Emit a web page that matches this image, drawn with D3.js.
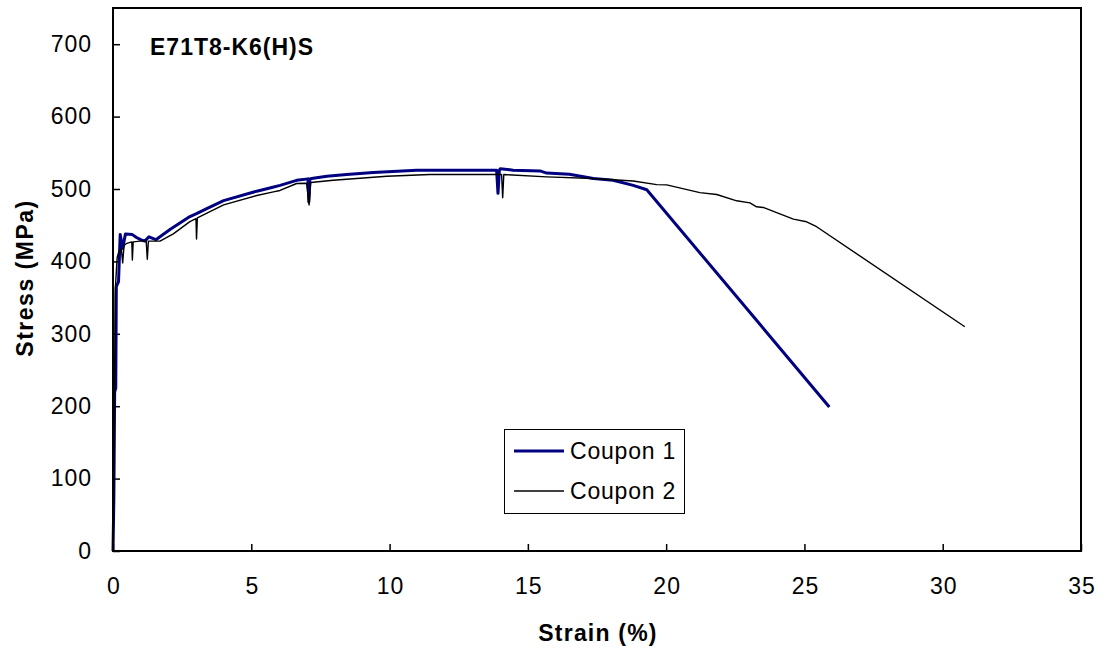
<!DOCTYPE html>
<html><head><meta charset="utf-8">
<script src="https://cdn.jsdelivr.net/npm/d3@7"></script>
<style>body{margin:0;background:#fff}svg{display:block}text{font-family:"Liberation Sans",Arial,sans-serif}</style>
</head><body>
<script>
const seriesNames = ["Coupon 1", "Coupon 2"];
const chartTitle = "E71T8-K6(H)S";
const xTicks = [0,5,10,15,20,25,30,35];
const yTicks = [0,100,200,300,400,500,600,700];
// [strain %, stress MPa]
const coupon1 = [[0,0],[0.03,70],[0.06,220],[0.1,225],[0.12,365],[0.2,372],[0.26,437],[0.35,418],[0.45,438],[0.7,437],[0.85,433],[1.0,430],[1.15,428],[1.3,434],[1.55,430],[2.06,444],[2.78,462],[3.02,466],[3.39,473],[4.0,484],[5.2,497],[5.74,502],[6.04,505],[6.64,512],[7.05,514],[7.08,482],[7.12,514],[7.18,514.5],[7.73,517.7],[8.45,520],[9.41,522.7],[10.98,526],[13.87,526],[13.92,494],[13.97,526],[14.0,528],[14.47,526],[15.44,525],[15.68,522],[16.5,520.5],[17.37,514.6],[18.08,512],[18.81,505],[19.3,499],[25.9,199]];
const coupon2 = [[0,0],[0.03,75],[0.08,360],[0.15,405],[0.2,412],[0.3,418],[0.35,398],[0.4,422],[0.5,425],[0.68,427],[0.7,402],[0.73,427],[0.98,428],[1.2,428],[1.24,403],[1.28,428],[1.7,428],[2.18,438],[2.78,455],[3.0,459],[3.02,431],[3.05,460],[4.0,478],[5.2,491],[5.8,496],[6.04,498],[6.64,507.6],[7.0,508],[7.09,478],[7.15,509],[7.96,512],[8.81,514.5],[9.9,517.7],[11.46,520],[14.05,520],[14.09,488],[14.13,520],[15.68,516.8],[17.36,514.6],[18.81,511],[19.66,506],[20.02,505.7],[21.22,495],[21.83,492.4],[22.55,483.7],[23.03,480.9],[23.27,475.4],[23.51,474.5],[24.6,458.4],[25.08,454.7],[25.44,447.9],[30.8,309.7]];

const W=1104,H=652;
const L=113,R=1081,T=8,B=551;
const svg=d3.select("body").append("svg").attr("width",W).attr("height",H);
const x=d3.scaleLinear().domain([0,35]).range([L,R]);
const y=d3.scaleLinear().domain([0,750]).range([B,T]);

const xa=svg.append("g").attr("transform",`translate(0,${B})`)
  .call(d3.axisBottom(x).tickValues(xTicks).tickSizeInner(-7).tickSizeOuter(0).tickPadding(27));
const ya=svg.append("g").attr("transform",`translate(${L},0)`)
  .call(d3.axisLeft(y).tickValues(yTicks).tickSizeInner(-7).tickSizeOuter(0).tickPadding(21));
[xa,ya].forEach(a=>{a.select(".domain").remove();a.selectAll("line").attr("stroke","#000").attr("stroke-width",1.5);
  a.selectAll("text").attr("font-size",23).attr("fill","#000").style("letter-spacing","1px").style("font-family","Liberation Sans, Arial, sans-serif");});
xa.selectAll("text").attr("dx","0.5px");

const line=d3.line().x(d=>x(d[0])).y(d=>y(d[1]));
svg.append("path").datum(coupon1).attr("d",line).attr("fill","none").attr("stroke","#000080").attr("stroke-width",3).attr("stroke-linejoin","round");
svg.append("path").datum(coupon2).attr("d",line).attr("fill","none").attr("stroke","#000").attr("stroke-width",1.4).attr("stroke-linejoin","round");

svg.append("rect").attr("x",L).attr("y",T).attr("width",R-L).attr("height",B-T).attr("fill","none").attr("stroke","#000").attr("stroke-width",2);

svg.append("text").attr("x",150).attr("y",55).attr("font-size",23).attr("font-weight","bold").style("letter-spacing","1px").text(chartTitle);
svg.append("text").attr("x",(L+R)/2+1).attr("y",641).attr("text-anchor","middle").attr("font-size",23).attr("font-weight","bold").style("letter-spacing","1.2px").text("Strain (%)");
svg.append("text").attr("transform","translate(33,278) rotate(-90)").attr("text-anchor","middle").attr("font-size",23).attr("font-weight","bold").style("letter-spacing","1.5px").text("Stress (MPa)");

const lg=svg.append("g");
lg.append("rect").attr("x",504.5).attr("y",429.5).attr("width",180).attr("height",84).attr("fill","#fff").attr("stroke","#000").attr("stroke-width",1);
const styles=[{c:"#000080",w:3},{c:"#000",w:1.4}];
seriesNames.forEach((n,i)=>{
  const yy=451+i*40;
  lg.append("line").attr("x1",514).attr("x2",564).attr("y1",yy).attr("y2",yy).attr("stroke",styles[i].c).attr("stroke-width",styles[i].w);
  lg.append("text").attr("x",570).attr("y",yy+8).attr("font-size",23).style("letter-spacing","0.8px").text(n);
});
</script>
</body></html>
